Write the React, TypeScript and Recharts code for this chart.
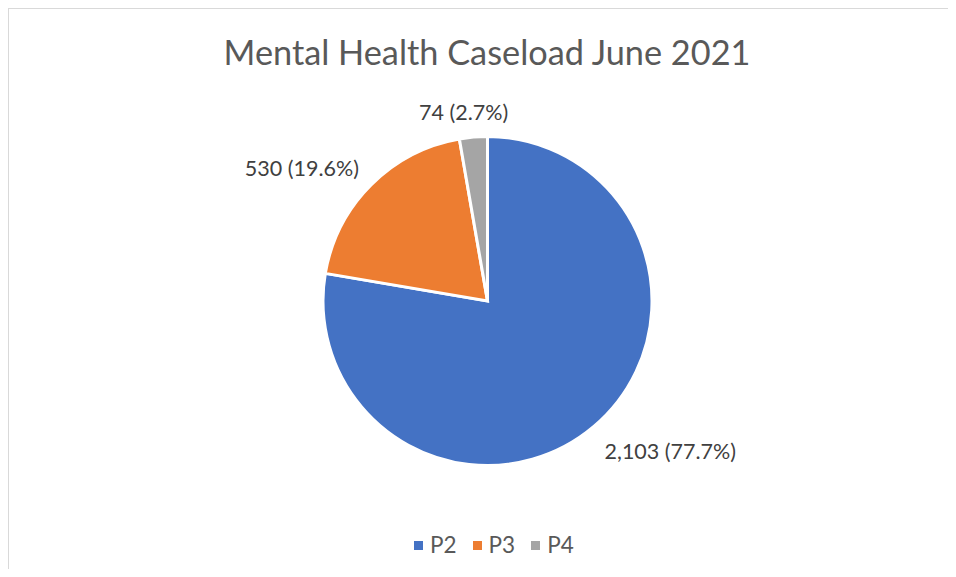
import React from 'react';
import { PieChart, Pie, Cell, Legend } from 'recharts';

const categories = ['P2', 'P3', 'P4'];
const values = [2103, 530, 74];
const colors = ['#4472C4', '#ED7D31', '#A5A5A5'];
const title = 'Mental Health Caseload June 2021';

const data = categories.map((name, i) => ({ name, value: values[i] }));

const FONT = 'Lato, "Open Sans", sans-serif';
const RAD = Math.PI / 180;

const renderLabel = (props: any) => {
  const { cx, cy, midAngle, outerRadius, value, percent } = props;
  const fs = 21.5;
  const R = outerRadius + 17;
  const cos = Math.cos(-midAngle * RAD);
  const sin = Math.sin(-midAngle * RAD);
  const px = cx + R * cos;
  const py = cy + R * sin;
  const text = `${Number(value).toLocaleString('en-US')} (${(percent * 100).toFixed(1)}%)`;
  const w = text.length * fs * 0.5;
  const h = 22;
  const c = Math.max(-1, Math.min(1, 2 * cos));
  let anchor: 'start' | 'end' | 'middle' = 'middle';
  let x = px + (c * w) / 2;
  if (c >= 1) {
    anchor = 'start';
    x = px;
  } else if (c <= -1) {
    anchor = 'end';
    x = px;
  }
  const centerY = py + (sin * h) / 2 + 3;
  return (
    <text
      x={x}
      y={centerY + 0.36 * fs}
      textAnchor={anchor}
      fill="#404040"
      fontSize={fs}
      fontFamily={FONT}
    >
      {text}
    </text>
  );
};

const renderLegend = (props: any) => {
  const { payload } = props;
  return (
    <div style={{ display: 'flex', alignItems: 'center', fontFamily: FONT, fontSize: 22.5, color: '#595959' }}>
      {(payload || []).map((entry: any, i: number) => (
        <div key={i} style={{ display: 'flex', alignItems: 'center', marginRight: 16 }}>
          <div style={{ width: 9, height: 9, background: entry.color, marginRight: 7 }} />
          <span style={{ lineHeight: '24px' }}>{entry.value}</span>
        </div>
      ))}
    </div>
  );
};

export default function App() {
  return (
    <div style={{ position: 'relative', width: 948, height: 561 }}>
      <div
        style={{
          position: 'absolute',
          left: 0,
          top: 0,
          width: 948,
          height: 561,
          borderTop: '1px solid #d9d9d9',
          borderLeft: '1px solid #d9d9d9',
          boxSizing: 'border-box',
        }}
      />
      <svg style={{ position: 'absolute', left: 0, top: 0 }} width={940} height={100}>
        <text x={479} y={57} textAnchor="middle" fill="#595959" fontSize={34.3} fontFamily={FONT}>
          {title}
        </text>
      </svg>
      <div style={{ position: 'absolute', left: 0, top: 0 }}>
        <PieChart width={940} height={561} margin={{ top: 0, right: 0, bottom: 0, left: 0 }}>
          <Pie
            data={data}
            dataKey="value"
            nameKey="name"
            cx={479.5}
            cy={293}
            outerRadius={164.5}
            startAngle={90}
            endAngle={-270}
            stroke="#ffffff"
            strokeWidth={3}
            label={renderLabel}
            labelLine={false}
            isAnimationActive={false}
          >
            {data.map((d, i) => (
              <Cell key={d.name} fill={colors[i]} />
            ))}
          </Pie>
          <Legend
            content={renderLegend}
            wrapperStyle={{ position: 'absolute', left: 406, top: 525, width: 300, height: 24 }}
          />
        </PieChart>
      </div>
    </div>
  );
}
